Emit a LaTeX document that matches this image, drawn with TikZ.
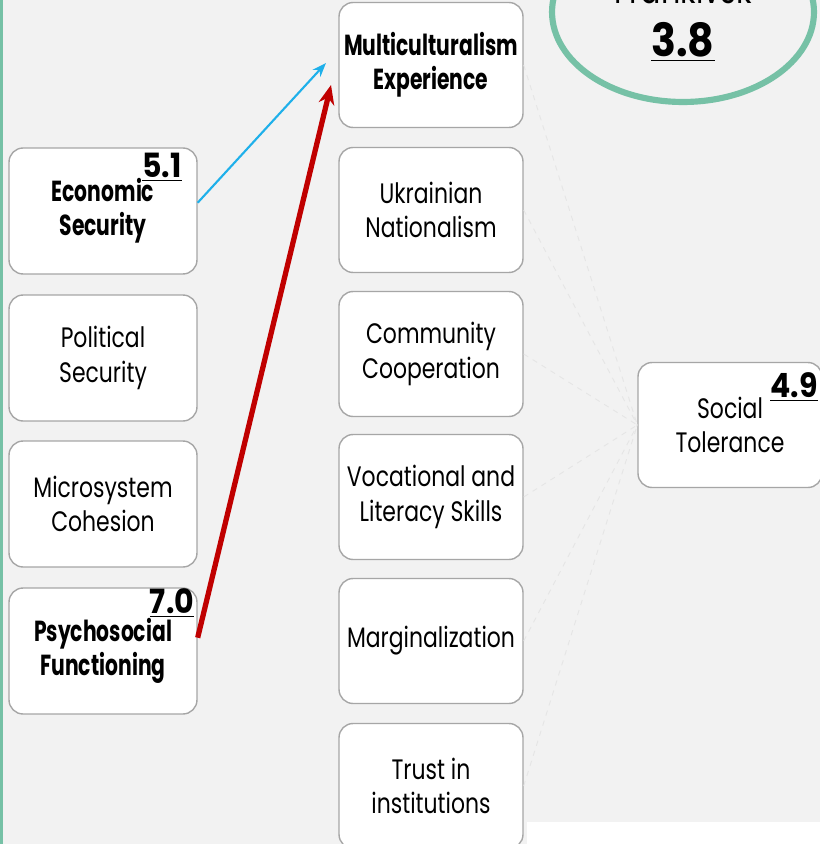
\documentclass[tikz,border=0pt]{standalone}
\usepackage{fontspec}
\setmainfont{Poppins}[FakeStretch=0.78, BoldFeatures={FakeStretch=0.70}]
\newfontfamily\scorefont{Poppins}[FakeStretch=0.9]
\usetikzlibrary{arrows.meta}

\definecolor{slidegray}{HTML}{F2F2F2}
\definecolor{framegreen}{HTML}{76C1A6}
\definecolor{boxline}{HTML}{A6A6A6}
\definecolor{arrowblue}{HTML}{1FB0EA}
\definecolor{arrowred}{HTML}{C00000}

\tikzset{
    factor/.style={draw=boxline, line width=0.8pt, fill=white, rounded corners=8pt,
        minimum width=3.76cm, minimum height=2.52cm, align=center, inner sep=2pt,
        font=\fontsize{16}{19.5}\selectfont},
    midfactor/.style={factor, minimum width=3.68cm, minimum height=2.5cm},
    strong/.style={font=\fontsize{16.5}{19.5}\selectfont\bfseries},
    score/.style={inner sep=0pt, font=\scorefont\fontsize{19}{21}\selectfont\bfseries},
    link/.style={dashed, gray!20, line width=0.5pt},
}

\begin{document}
\begin{tikzpicture}[x=0.02cm,y=-0.02cm]

    % slide
    \clip (0,0) rectangle (820,844);
    \fill[slidegray] (0,0) rectangle (820,844);
    \fill[white] (527,822) rectangle (820,844);
    \fill[framegreen] (0,0) rectangle (3,844);

    % city circle
    \draw[framegreen, line width=3.5pt] (683,12) ellipse [x radius=2.62cm, y radius=1.8cm];
    \node[anchor=base, font=\fontsize{22}{26}\selectfont] (city) at (683,4) {Frankivsk};
    \node[font=\scorefont\fontsize{26}{30}\selectfont\bfseries] (cityscore) at (683,42) {\underline{3.8}};

    % left column
    \node[factor, strong] (econ) at (103,211) {Economic\\Security};
    \node[factor] (polit) at (103,358) {Political\\Security};
    \node[factor] (micro) at (103,504) {Microsystem\\Cohesion};
    \node[factor, strong] (psycho) at (103,651) {Psychosocial\\Functioning};

    % middle column
    \node[midfactor, strong] (multi) at (431,65) {Multiculturalism\\Experience};
    \node[midfactor] (ukr) at (431,210) {Ukrainian\\Nationalism};
    \node[midfactor] (comm) at (431,354) {Community\\Cooperation};
    \node[midfactor] (voc) at (431,497) {Vocational and\\Literacy Skills};
    \node[midfactor] (marg) at (431,641) {Marginalization};
    \node[midfactor] (trust) at (431,786) {Trust in\\institutions};

    % outcome
    \node[midfactor] (tol) at (730,425) {Social\\Tolerance};

    % scores
    \node[score] (econscore) at (162,167) {\underline{5.1}};
    \node[score] (psychoscore) at (172,603) {\underline{7.0}};
    \node[score] (tolscore) at (794,387) {\underline{4.9}};

    % faint links to outcome
    \foreach \n in {multi,ukr,comm,voc,marg,trust} {
        \draw[link] (\n.east) -- (tol.west);
    }

    % paths
    \coordinate (blueend) at (326,63);
    \coordinate (redend) at (331,85);
    \draw[arrowblue, line width=1.2pt, -{Stealth[length=8pt,width=6pt]}] (econ.5) -- (blueend);
    \draw[arrowred, line width=3pt, -{Stealth[length=11pt,width=9pt]}] (psycho.8) -- (redend);

\end{tikzpicture}
\end{document}
